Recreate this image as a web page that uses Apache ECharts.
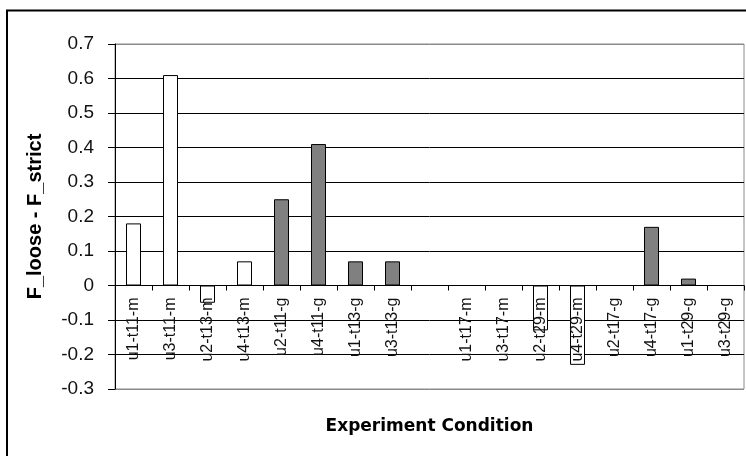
<!DOCTYPE html>
<html>
<head>
<meta charset="utf-8">
<script src="https://cdn.jsdelivr.net/npm/echarts@6/dist/echarts.min.js"></script>
<style>
html,body{margin:0;padding:0;background:#fff;}
#chart{width:746px;height:456px;}
</style>
</head>
<body>
<div id="chart"></div>
<script>
const categories = ['u1-t11-m','u3-t11-m','u2-t13-m','u4-t13-m','u2-t11-g','u4-t11-g','u1-t13-g','u3-t13-g','','u1-t17-m','u3-t17-m','u2-t29-m','u4-t29-m','u2-t17-g','u4-t17-g','u1-t29-g','u3-t29-g'];
const values = [0.18,0.61,-0.05,0.07,0.25,0.41,0.07,0.07,null,0,0,-0.13,-0.23,0,0.17,0.02,0];
const yTicks = [-0.3,-0.2,-0.1,0,0.1,0.2,0.3,0.4,0.5,0.6,0.7];
const xTitle = 'Experiment Condition';
const yTitle = 'F_loose - F_strict';

const chart = echarts.init(document.getElementById('chart'));
const lineColors = yTicks.map((v, i) => (i === 0 || i === yTicks.length - 1) ? '#8a8a8a' : '#000000');
const gridTop = 44, gridBottom = 67, H = 456;
const yMin = yTicks[0], yMax = yTicks[yTicks.length - 1];
const plotH = H - gridTop - gridBottom;
// distance from the plot bottom up to the zero line, derived from the axis range
const zeroOffset = plotH * (0 - yMin) / (yMax - yMin);

chart.setOption({
  animation: false,
  backgroundColor: '#fff',
  graphic: [{
    type: 'rect',
    shape: {x: 7, y: 10.5, width: 800, height: 500},
    style: {fill: 'none', stroke: '#000', lineWidth: 2},
    z: 100
  }],
  grid: {left: 115, top: gridTop, right: 2, bottom: gridBottom, containLabel: false, outerBoundsMode: 'none',
    show: true, borderColor: '#8a8a8a', borderWidth: 1, backgroundColor: '#fff'},
  xAxis: {
    type: 'category',
    data: categories,
    position: 'bottom',
    offset: -zeroOffset,
    z: 5,
    axisLine: {show: true, onZero: false, lineStyle: {color: '#000', width: 1}},
    axisTick: {show: true, alignWithLabel: false, interval: 0, length: 5, lineStyle: {color: '#000'}},
    axisLabel: {interval: 0, rotate: 90, margin: 12, fontSize: 16, color: '#111', fontFamily: 'Liberation Sans, Arial, sans-serif'},
    name: xTitle,
    nameLocation: 'middle',
    nameGap: 133,
    nameTextStyle: {fontSize: 17, fontWeight: 'bold', color: '#000', fontFamily: 'DejaVu Sans, sans-serif'}
  },
  yAxis: {
    type: 'value',
    min: yMin,
    max: yMax,
    interval: 0.1,
    axisLine: {show: true, onZero: false, lineStyle: {color: '#000', width: 1}},
    axisTick: {show: true, length: 7, lineStyle: {color: '#000'}},
    axisLabel: {margin: 21, fontSize: 19, color: '#111', fontFamily: 'Liberation Sans, Arial, sans-serif',
      formatter: v => { const r = Math.round(v * 10) / 10; return r === 0 ? '0' : String(r); }},
    splitLine: {show: true, lineStyle: {color: lineColors, width: 1}},
    name: yTitle,
    nameLocation: 'middle',
    nameGap: 70,
    nameTextStyle: {fontSize: 20, fontWeight: 'bold', color: '#000', fontFamily: 'Liberation Sans, Arial, sans-serif'}
  },
  series: [{
    type: 'bar',
    data: values,
    barWidth: 15,
    itemStyle: {
      color: p => categories[p.dataIndex].endsWith('-g') ? '#808080' : '#ffffff',
      borderColor: '#000',
      borderWidth: 1
    }
  }]
});
</script>
</body>
</html>
